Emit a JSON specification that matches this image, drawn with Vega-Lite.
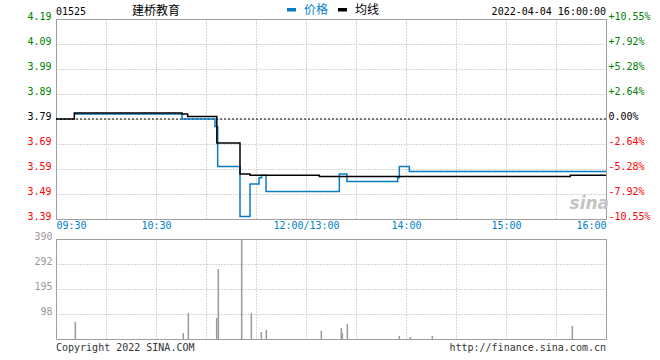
{
  "$schema": "https://vega.github.io/schema/vega-lite/v6.json",
  "autosize": {"type": "pad"},
  "padding": {"left": 26, "top": 3, "right": 11, "bottom": 6},
  "spacing": 20,
  "bounds": "flush",
  "config": {
    "view": {"stroke": "#999999", "strokeWidth": 1},
    "font": "DejaVu Sans Mono",
    "axis": {
      "domain": false, "ticks": false, "tickSize": 0,
      "labelFont": "DejaVu Sans Mono", "labelFontSize": 10, "labelOverlap": false,
      "gridColor": "#aaaaaa", "gridDash": [1, 2], "gridWidth": 1
    },
    "legend": {
      "orient": "none", "legendX": 229, "legendY": -16, "direction": "horizontal",
      "symbolType": "stroke", "symbolSize": 81, "symbolStrokeWidth": 3.5,
      "labelFont": "Noto Sans CJK SC", "labelFontSize": 12, "labelOffset": 6,
      "columnPadding": 2, "title": null
    }
  },
  "datasets": {
    "px": [
      {"m": 11, "p": 3.81, "s": "价格"},
      {"m": 75.6, "p": 3.79, "s": "价格"},
      {"m": 95.4, "p": 3.76, "s": "价格"},
      {"m": 97, "p": 3.60, "s": "价格"},
      {"m": 110.4, "p": 3.40, "s": "价格"},
      {"m": 116.4, "p": 3.53, "s": "价格"},
      {"m": 121.8, "p": 3.555, "s": "价格"},
      {"m": 123.4, "p": 3.565, "s": "价格"},
      {"m": 126, "p": 3.50, "s": "价格"},
      {"m": 170, "p": 3.57, "s": "价格"},
      {"m": 174.6, "p": 3.54, "s": "价格"},
      {"m": 205, "p": 3.555, "s": "价格"},
      {"m": 206, "p": 3.60, "s": "价格"},
      {"m": 212, "p": 3.58, "s": "价格"},
      {"m": 330, "p": 3.58, "s": "价格"},
      {"m": 0, "p": 3.79, "s": "均线"},
      {"m": 11, "p": 3.814, "s": "均线"},
      {"m": 75.6, "p": 3.81, "s": "均线"},
      {"m": 79, "p": 3.80, "s": "均线"},
      {"m": 96.5, "p": 3.694, "s": "均线"},
      {"m": 110.4, "p": 3.57, "s": "均线"},
      {"m": 116.4, "p": 3.565, "s": "均线"},
      {"m": 158, "p": 3.56, "s": "均线"},
      {"m": 308.6, "p": 3.565, "s": "均线"},
      {"m": 330, "p": 3.565, "s": "均线"}
    ],
    "vol": [
      {"m": 11.6, "v": 67},
      {"m": 76.4, "v": 23},
      {"m": 79.4, "v": 101},
      {"m": 96.4, "v": 82},
      {"m": 97.4, "v": 273},
      {"m": 111.4, "v": 390},
      {"m": 117.2, "v": 101},
      {"m": 123.2, "v": 27},
      {"m": 126.2, "v": 36},
      {"m": 159.2, "v": 32},
      {"m": 171.2, "v": 43},
      {"m": 171.8, "v": 23},
      {"m": 174.8, "v": 58},
      {"m": 206, "v": 12},
      {"m": 212.6, "v": 8},
      {"m": 225.8, "v": 12},
      {"m": 309.8, "v": 51}
    ],
    "one": [{}]
  },
  "vconcat": [
    {
      "width": 550,
      "height": 200,
      "resolve": {"axis": {"x": "independent", "y": "independent"}},
      "layer": [
        {
          "data": {"values": [{"pre": 3.79}]},
          "mark": {"type": "rule", "color": "#000000", "strokeDash": [2, 2], "strokeWidth": 1},
          "encoding": {
            "y": {
              "field": "pre", "type": "quantitative",
              "scale": {"domain": [3.39, 4.19], "nice": false, "zero": false},
              "axis": {
                "orient": "right", "title": null, "grid": false,
                "values": [3.39, 3.49, 3.59, 3.69, 3.79, 3.89, 3.99, 4.09, 4.19],
                "labelBaseline": "alphabetic", "labelPadding": 2,
                "labelExpr": "(datum.value > 3.795 ? '+' : datum.value < 3.785 ? '-' : '') + format(abs(datum.value - 3.79) / 3.79 * 100, '.2f') + '%'",
                "labelColor": {"expr": "datum.value > 3.795 ? '#008000' : datum.value < 3.785 ? '#ff0000' : '#000000'"}
              }
            }
          }
        },
        {
          "data": {"name": "px"},
          "mark": {"type": "line", "interpolate": "step-after", "strokeWidth": 1.5},
          "encoding": {
            "x": {
              "field": "m", "type": "quantitative",
              "scale": {"domain": [0, 330], "nice": false, "zero": false},
              "axis": {
                "title": null, "grid": true,
                "values": [0, 30, 60, 90, 120, 150, 180, 210, 240, 270, 300, 330],
                "labelPadding": 1, "labelColor": "#0080cc", "labelFlush": false,
                "labelExpr": "datum.value == 0 ? '09:30' : datum.value == 60 ? '10:30' : datum.value == 150 ? '12:00/13:00' : datum.value == 210 ? '14:00' : datum.value == 270 ? '15:00' : datum.value == 330 ? '16:00' : ''",
                "labelAlign": {"expr": "datum.value == 0 ? 'left' : datum.value == 330 ? 'right' : 'center'"}
              }
            },
            "y": {
              "field": "p", "type": "quantitative",
              "scale": {"domain": [3.39, 4.19], "nice": false, "zero": false},
              "axis": {
                "orient": "left", "title": null, "grid": true,
                "values": [3.39, 3.49, 3.59, 3.69, 3.79, 3.89, 3.99, 4.09, 4.19],
                "labelBaseline": "alphabetic", "labelPadding": 5,
                "labelExpr": "format(datum.value, '.2f')",
                "labelColor": {"expr": "datum.value > 3.795 ? '#008000' : datum.value < 3.785 ? '#ff0000' : '#000000'"}
              }
            },
            "color": {
              "field": "s", "type": "nominal",
              "scale": {"domain": ["价格", "均线"], "range": ["#0a7cc4", "#000000"]},
              "legend": {
                "labelColor": {"expr": "datum.label == '价格' ? '#0080cc' : '#000000'"}
              }
            }
          }
        },
        {
          "data": {"name": "one"},
          "mark": {"type": "text", "align": "center", "baseline": "middle", "fontSize": 17, "fontStyle": "italic", "fontWeight": "bold", "font": "DejaVu Sans", "color": "#c4c4c4"},
          "encoding": {
            "x": {"datum": 320, "type": "quantitative", "axis": null},
            "y": {"datum": 3.45, "type": "quantitative", "axis": null},
            "text": {"value": "sina"}
          }
        },
        {
          "data": {"name": "one"},
          "mark": {"type": "text", "align": "left", "baseline": "alphabetic", "dy": -4, "fontSize": 10, "font": "DejaVu Sans Mono", "color": "#000000"},
          "encoding": {
            "x": {"datum": 0, "type": "quantitative", "axis": null},
            "y": {"datum": 4.19, "type": "quantitative", "axis": null},
            "text": {"value": "01525"}
          }
        },
        {
          "data": {"name": "one"},
          "mark": {"type": "text", "align": "left", "baseline": "alphabetic", "dy": -4, "fontSize": 12, "font": "Noto Sans CJK SC", "color": "#000000"},
          "encoding": {
            "x": {"datum": 45.6, "type": "quantitative", "axis": null},
            "y": {"datum": 4.19, "type": "quantitative", "axis": null},
            "text": {"value": "建桥教育"}
          }
        },
        {
          "data": {"name": "one"},
          "mark": {"type": "text", "align": "right", "baseline": "alphabetic", "dy": -4, "fontSize": 10, "font": "DejaVu Sans Mono", "color": "#000000"},
          "encoding": {
            "x": {"datum": 330, "type": "quantitative", "axis": null},
            "y": {"datum": 4.19, "type": "quantitative", "axis": null},
            "text": {"value": "2022-04-04 16:00:00"}
          }
        }
      ]
    },
    {
      "width": 550,
      "height": 100,
      "resolve": {"axis": {"x": "independent", "y": "independent"}},
      "layer": [
        {
          "data": {"name": "vol"},
          "mark": {"type": "rule", "color": "#999999", "strokeWidth": 1.5},
          "encoding": {
            "x": {
              "field": "m", "type": "quantitative",
              "scale": {"domain": [0, 330], "nice": false, "zero": false},
              "axis": {
                "title": null, "grid": true, "labels": false,
                "values": [0, 30, 60, 90, 120, 150, 180, 210, 240, 270, 300, 330]
              }
            },
            "y": {
              "field": "v", "type": "quantitative",
              "scale": {"domain": [0, 390], "nice": false},
              "axis": {
                "title": null, "grid": true,
                "values": [0, 97.5, 195, 292.5, 390],
                "labelBaseline": "alphabetic", "labelPadding": 4, "labelColor": "#999999",
                "labelExpr": "datum.value == 0 ? '' : datum.value == 97.5 ? '98' : datum.value == 292.5 ? '292' : format(datum.value, 'd')"
              }
            },
            "y2": {"datum": 0}
          }
        },
        {
          "data": {"name": "one"},
          "mark": {"type": "text", "align": "left", "baseline": "alphabetic", "dy": 12, "fontSize": 10, "font": "DejaVu Sans Mono", "color": "#333333"},
          "encoding": {
            "x": {"datum": 0, "type": "quantitative", "axis": null},
            "y": {"datum": 0, "type": "quantitative", "axis": null},
            "text": {"value": "Copyright 2022 SINA.COM"}
          }
        },
        {
          "data": {"name": "one"},
          "mark": {"type": "text", "align": "right", "baseline": "alphabetic", "dy": 12, "fontSize": 10, "font": "DejaVu Sans Mono", "color": "#333333"},
          "encoding": {
            "x": {"datum": 330, "type": "quantitative", "axis": null},
            "y": {"datum": 0, "type": "quantitative", "axis": null},
            "text": {"value": "http://finance.sina.com.cn"}
          }
        }
      ]
    }
  ]
}
